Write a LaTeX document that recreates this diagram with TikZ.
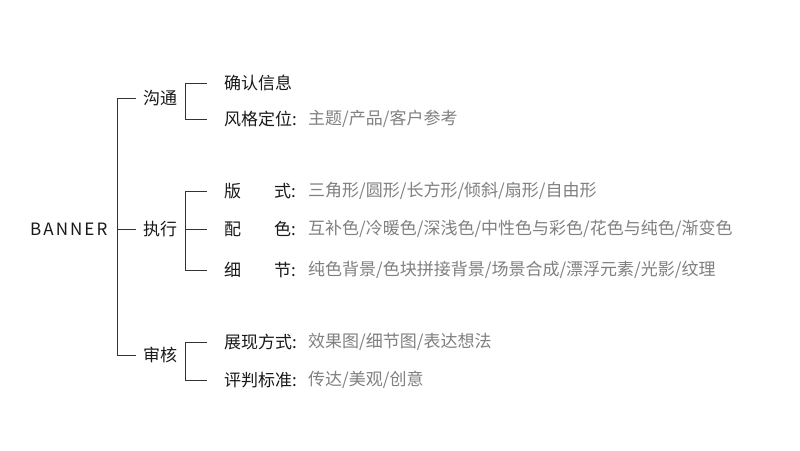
\documentclass[tikz,border=0pt]{standalone}
\usepackage{fontspec}
\setmainfont{Noto Sans CJK SC}
\begin{document}
\begin{tikzpicture}[x=1pt,y=-1pt,
  ln/.style={draw=black!80,line width=0.9pt},
  lab/.style={anchor=west,inner sep=0pt,font=\fontsize{17}{17}\selectfont,text=black!90},
  gr/.style={anchor=west,inner sep=0pt,font=\fontsize{17}{17}\selectfont,text=black!50}]
\fill[white] (0,0) rectangle (800,450);
\useasboundingbox (0,0) rectangle (800,450);
\node[lab,font=\fontsize{17}{17}\selectfont\addfontfeatures{LetterSpace=12}] (b) at (30,229) {BANNER};
\coordinate (mt) at (117,98); \coordinate (mb) at (117,355);
\draw[ln] (136,98) -- (mt) -- (mb) -- (136,355);
\draw[ln] (117,229) -- (136,229);
\node[lab] (g1) at (143,98) {沟通};
\node[lab] (g2) at (143,229) {执行};
\node[lab] (g3) at (143,355) {审核};
% brackets
\draw[ln] (207,83) -- (185,83) -- (185,119) -- (207,119);
\draw[ln] (207,191) -- (185,191) -- (185,270) -- (207,270);
\draw[ln] (185,229) -- (207,229);
\draw[ln] (207,342) -- (185,342) -- (185,380) -- (207,380);
\node[lab] (a1) at (224,83) {确认信息};
\node[lab] (a2) at (224,119) {风格定位:};
\node[gr] (c2) at (308,119) {主题/产品/客户参考};
\node[lab] (a3) at (224,191) {版};
\node[lab] (a3b) at (274,191) {式:};
\node[gr] (c3) at (308,191) {三角形/圆形/长方形/倾斜/扇形/自由形};
\node[lab] (a4) at (224,229) {配};
\node[lab] (a4b) at (274,229) {色:};
\node[gr] (c4) at (308,229) {互补色/冷暖色/深浅色/中性色与彩色/花色与纯色/渐变色};
\node[lab] (a5) at (224,270) {细};
\node[lab] (a5b) at (274,270) {节:};
\node[gr] (c5) at (308,270) {纯色背景/色块拼接背景/场景合成/漂浮元素/光影/纹理};
\node[lab] (a6) at (224,342) {展现方式:};
\node[gr] (c6) at (308,342) {效果图/细节图/表达想法};
\node[lab] (a7) at (224,380) {评判标准:};
\node[gr] (c7) at (308,380) {传达/美观/创意};
\end{tikzpicture}
\end{document}
